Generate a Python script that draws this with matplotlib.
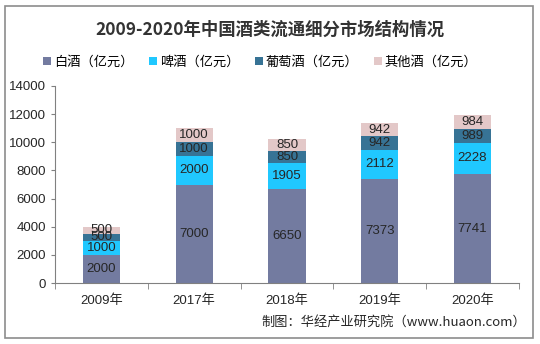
import numpy as np
import matplotlib.pyplot as plt
from matplotlib.patches import Rectangle

plt.rcParams['font.family'] = ['Liberation Sans', 'Noto Sans CJK SC', 'DejaVu Sans']

years = ['2009年', '2017年', '2018年', '2019年', '2020年']
baijiu = [2000, 7000, 6650, 7373, 7741]
pijiu = [1000, 2000, 1905, 2112, 2228]
putaojiu = [500, 1000, 850, 942, 989]
qita = [500, 1000, 850, 942, 984]

series = [baijiu, pijiu, putaojiu, qita]
names = ['白酒（亿元）', '啤酒（亿元）', '葡萄酒（亿元）', '其他酒（亿元）']
colors = ['#737ba0', '#20c8ff', '#377395', '#e3c8c8']

fig = plt.figure(figsize=(5.4, 3.44), dpi=100)
fig.patches.append(Rectangle((0.009, 0.017), 0.978, 0.965, transform=fig.transFigure,
                             fill=False, edgecolor='#8c8c8c', linewidth=1.2))
ax = fig.add_axes([0.102, 0.177, 0.859, 0.573])

x = np.arange(len(years))
bottom = np.zeros(len(years))
for vals, name, c in zip(series, names, colors):
    vals = np.array(vals)
    ax.bar(x, vals, 0.4, bottom=bottom, color=c, label=name)
    for xi, b, v in zip(x, bottom, vals):
        ax.text(xi, b + v / 2, str(v), ha='center', va='center', fontsize=9.5, color='#262626')
    bottom += vals

ax.set_xlim(-0.5, len(years) - 0.5)
ax.set_ylim(0, 14000)
ax.set_yticks(range(0, 14001, 2000))
ax.set_xticks(x)
ax.set_xticklabels(years, fontsize=9.5, color='#262626')
ax.set_xticks(np.arange(-0.5, len(years), 1), minor=True)
ax.tick_params(axis='x', which='major', length=0, pad=8)
ax.tick_params(axis='x', which='minor', length=4, color='#808080')
ax.tick_params(axis='y', length=3, color='#808080', labelsize=9.5, labelcolor='#262626')
for s in ['top', 'right']:
    ax.spines[s].set_visible(False)
for s in ['left', 'bottom']:
    ax.spines[s].set_color('#808080')

fig.text(0.5, 0.912, '2009-2020年中国酒类流通细分市场结构情况', ha='center', va='center',
         fontsize=12.5, fontweight='bold', color='#333333', family=['Noto Sans CJK SC'])
fig.legend(loc='center', bbox_to_anchor=(0.482, 0.82), ncol=4, frameon=False,
           handlelength=0.6, handleheight=0.6, handletextpad=0.2,
           columnspacing=1.2, prop={'family': ['Noto Sans CJK SC'], 'size': 9.5})
fig.text(0.975, 0.063, '制图：华经产业研究院（www.huaon.com）', ha='right', va='center',
         fontsize=9.5, color='#262626', family=['Noto Sans CJK SC'])

fig.savefig('out.png', dpi=100)
